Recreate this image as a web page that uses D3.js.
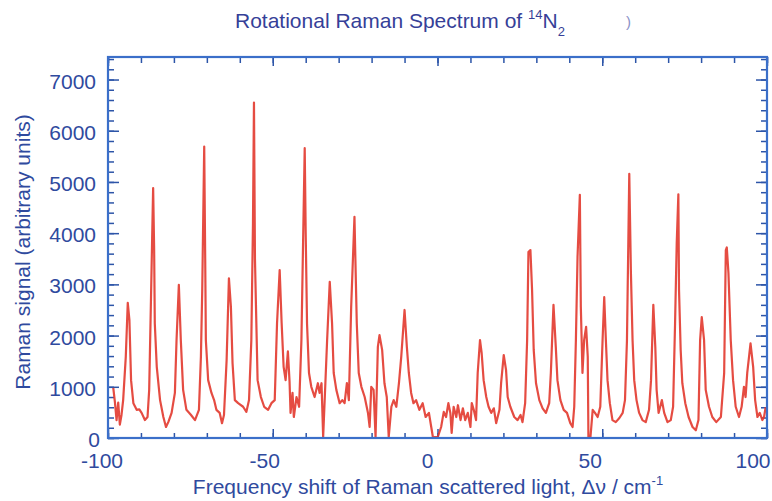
<!DOCTYPE html>
<html>
<head>
<meta charset="utf-8">
<script src="https://cdn.jsdelivr.net/npm/d3@7"></script>
<style>
body { margin: 0; background: #fff; }
text { font-family: "Liberation Sans", Arial, sans-serif; }
</style>
</head>
<body>
<div id="chart"></div>
<script>
// Raman shift (cm-1) and signal
const shift = [
  -98.4, -97.9, -97.4, -96.9, -96.4, -95.9, -95.4, -94.6, -94.0, -93.5, -93.0, -92.3, -91.3, -90.5, -89.8, -88.8, -88.0,
  -87.5, -87.1, -86.6, -86.3, -86.0, -85.8, -85.2, -84.2, -83.2, -82.4, -81.7, -80.7, -79.7,
  -79.2, -78.5, -77.9, -77.2, -76.2, -74.8, -73.6, -72.4,
  -71.8, -71.4, -70.8, -70.5, -70.3, -69.6, -68.6, -67.8, -67.1, -66.1, -65.4, -64.8,
  -64.0, -63.3, -62.7, -62.2, -61.5, -60.5, -59.0, -58.0, -57.2,
  -56.5, -56.0, -55.7, -55.4, -55.1, -54.6, -53.6, -52.6, -51.4, -50.4, -49.4,
  -48.7, -47.9, -47.3, -46.7, -46.1, -45.4, -44.9, -44.6, -44.0, -43.6, -42.8, -42.0,
  -41.3, -40.8, -40.3, -40.0, -39.6, -39.0, -38.3, -37.3, -36.3, -35.8, -35.2, -34.7, -34.2,
  -33.5, -32.7, -32.0, -31.5, -30.7, -29.7, -28.9, -28.2, -27.5, -26.9,
  -26.2, -25.2, -24.5, -23.9, -23.1, -22.1, -21.1, -20.6, -20.1, -19.4, -18.8,
  -18.1, -17.6, -16.8, -16.1, -15.4, -14.8, -14.0, -13.3, -12.5, -11.7, -11.0,
  -10.0, -9.3, -8.7, -8.0, -7.3, -6.5, -5.5, -4.5, -3.6, -2.6, -1.9, -1.4,
  0.1, 1.1, 1.9, 2.6, 3.3, 3.9, 4.3, 4.9, 5.7, 6.2, 7.0, 7.7, 8.4, 9.2, 10.0, 10.4, 11.0, 11.7,
  12.2, 12.9, 13.4, 14.0, 14.8, 15.5, 16.3, 17.1, 17.8, 18.8, 19.3,
  20.1, 20.8, 21.3, 22.1, 23.3, 24.3, 25.2, 25.8, 26.6,
  27.2, 27.6, 28.2, 28.7, 29.2, 29.9, 30.9, 31.9, 32.9, 33.9, 34.4,
  35.2, 35.9, 36.4, 37.3, 38.3, 39.3, 40.3, 41.0, 41.5,
  42.0, 42.5, 43.2, 43.5, 44.0, 44.5, 45.1, 45.6, 45.8, 46.4, 47.1, 47.8, 48.6, 49.4,
  50.1, 50.6, 51.1, 51.6, 52.3, 53.1, 54.1, 55.2, 56.2, 56.9,
  57.5, 58.2, 58.7, 59.2, 59.7, 60.4, 61.2, 62.2, 63.2, 64.2, 64.8,
  65.5, 66.1, 66.5, 67.1, 68.1, 68.8, 69.8, 70.8, 71.5,
  72.1, 72.6, 73.1, 73.3, 73.8, 74.3, 75.2, 76.2, 77.4, 78.4, 79.2,
  79.7, 80.2, 80.9, 81.4, 82.4, 83.4, 84.6, 86.0, 87.0,
  87.5, 87.8, 88.3, 89.0, 89.7, 90.5, 91.5, 92.3, 93.0, 93.5, 94.0,
  95.0, 95.8, 96.4, 97.1, 97.8, 98.6, 99.1, 99.6
];
const signal = [
  980, 700, 350, 690, 260, 450, 740, 1590, 2640, 2300, 1130, 680, 550, 560, 490, 350, 410,
  940, 2240, 3900, 4880, 3700, 2240, 1390, 740, 410, 215, 310, 490, 880,
  1910, 2990, 1910, 940, 550, 450, 350, 550,
  1590, 2890, 5690, 3500, 1910, 1130, 880, 740, 550, 490, 290, 450,
  1520, 3120, 2560, 1460, 740, 680, 610, 510, 740,
  1910, 4200, 6550, 3500, 2600, 1130, 800, 610, 550, 680, 740,
  2240, 3280, 2240, 1390, 1130, 1690, 1100, 490, 880, 410, 800, 610,
  1910, 3800, 5660, 4000, 2240, 1270, 1000, 800, 1070, 880, 1070, 20, 800,
  1910, 3050, 2240, 1270, 940, 680, 740, 680, 1070, 740,
  2560, 4320, 2240, 1270, 1000, 800, 490, 215, 1000, 940, 20,
  1780, 2010, 1720, 1070, 800, 20, 610, 740, 610, 1070, 1590,
  2500, 1780, 1270, 880, 680, 740, 550, 680, 410, 490, 215, 20,
  20, 215, 510, 410, 680, 490, 100, 610, 410, 640, 350, 580, 350, 490, 215, 680, 550, 350,
  1270, 1910, 1660, 1130, 800, 610, 490, 580, 290, 550, 1070,
  1620, 1330, 800, 610, 410, 350, 450, 310, 680,
  1910, 3630, 3670, 2890, 1720, 1070, 740, 580, 490, 680, 1270,
  2600, 1780, 1130, 740, 550, 490, 290, 215, 610,
  1910, 3540, 4750, 2560, 1270, 1910, 2170, 1590, 20, 0, 550, 490, 410, 610,
  1910, 2750, 1910, 1130, 680, 350, 310, 390, 490, 740,
  1910, 5160, 3220, 1910, 1130, 740, 490, 350, 310, 550, 1130,
  2600, 1780, 940, 490, 740, 490, 310, 350, 610,
  2240, 3800, 4760, 2890, 1720, 1070, 680, 410, 215, 150, 350,
  1910, 2360, 1910, 940, 610, 410, 310, 410, 1270,
  3670, 3720, 3220, 1910, 1130, 610, 410, 610, 1000, 800, 1270,
  1850, 1390, 740, 410, 490, 350, 410, 600
];
const xLabels = [-100, -50, 0, 50, 100];
const yLabels = [0, 1000, 2000, 3000, 4000, 5000, 6000, 7000];

const width = 772;
const height = 501;
const plot = {left: 108, right: 767, top: 57, bottom: 438};

const frameColor = "#3b6fc9";
const tickColor = "#2d55a8";
const textColor = "#2f4a9e";

var svg = d3.select("#chart")
    .append("svg")
    .attr("width", width)
    .attr("height", height);

var x = d3.scaleLinear().domain([-100, 100]).range([plot.left, plot.right]);
var y = d3.scaleLinear().domain([0, 7440]).range([plot.bottom, plot.top]);

// inward ticks on all four sides, minor ones first
function ticks(axis, pos, values, size) {
    svg.append("g")
        .attr("transform", pos)
        .call(axis.tickValues(values).tickSize(-size).tickFormat(""))
        .call(g => g.select(".domain").remove())
        .call(g => g.selectAll("line").attr("stroke", tickColor).attr("stroke-width", 1.5));
}
var xMinor = d3.range(-100, 101, 10);
var yMinor = d3.range(0, 7441, 200);
ticks(d3.axisBottom(x), `translate(0,${plot.bottom})`, xMinor, 5);
ticks(d3.axisTop(x), `translate(0,${plot.top})`, xMinor, 6);
ticks(d3.axisBottom(x), `translate(0,${plot.bottom})`, xLabels, 9);
ticks(d3.axisTop(x), `translate(0,${plot.top})`, xLabels, 9);
ticks(d3.axisLeft(y), `translate(${plot.left},0)`, yMinor, 6);
ticks(d3.axisRight(y), `translate(${plot.right},0)`, yMinor, 6);
ticks(d3.axisLeft(y), `translate(${plot.left},0)`, yLabels, 11);
ticks(d3.axisRight(y), `translate(${plot.right},0)`, yLabels, 11);

// the spectrum
svg.append("clipPath").attr("id", "clip")
    .append("rect")
    .attr("x", plot.left).attr("y", plot.top)
    .attr("width", plot.right - plot.left).attr("height", plot.bottom - plot.top);

var line = d3.line()
    .x(i => x(shift[i]))
    .y(i => y(signal[i]));

svg.append("path")
    .datum(d3.range(shift.length))
    .attr("clip-path", "url(#clip)")
    .attr("d", line)
    .attr("fill", "none")
    .attr("stroke", "#e2382e")
    .attr("stroke-width", 2.2)
    .attr("stroke-linejoin", "round")
    .attr("stroke-opacity", 0.9);

// frame
svg.append("rect")
    .attr("x", plot.left).attr("y", plot.top)
    .attr("width", plot.right - plot.left).attr("height", plot.bottom - plot.top)
    .attr("fill", "none")
    .attr("stroke", frameColor)
    .attr("stroke-width", 2.2);

// tick labels (the scan has them sitting a little left of their ticks)
svg.append("g")
    .selectAll("text")
    .data(xLabels)
    .join("text")
    .attr("x", d => x(d) - 6 - (d + 100) * 0.04)
    .attr("y", 468)
    .attr("text-anchor", "middle")
    .attr("font-size", 21)
    .attr("fill", textColor)
    .text(d => d);

svg.append("g")
    .selectAll("text")
    .data(yLabels)
    .join("text")
    .attr("x", d => d === 0 ? 100 : 96)
    .attr("y", d => y(d) + 9)
    .attr("text-anchor", "end")
    .attr("font-size", 21)
    .attr("fill", textColor)
    .text(d => d);

// axis titles
var xt = svg.append("text")
    .attr("x", 428)
    .attr("y", 494)
    .attr("text-anchor", "middle")
    .attr("font-size", 21)
    .attr("fill", textColor)
    .text("Frequency shift of Raman scattered light, \u0394\u03bd / cm");
xt.append("tspan")
    .attr("dy", -9)
    .attr("font-size", 13)
    .text("-1");

svg.append("text")
    .attr("transform", "translate(30,252) rotate(-90)")
    .attr("text-anchor", "middle")
    .attr("font-size", 21)
    .attr("fill", textColor)
    .text("Raman signal (arbitrary units)");

// title
var title = svg.append("text")
    .attr("x", 235)
    .attr("y", 28)
    .attr("font-size", 21)
    .attr("fill", "#363f98")
    .text("Rotational Raman Spectrum of ");
title.append("tspan").attr("dy", -9).attr("font-size", 13).text("14");
title.append("tspan").attr("dy", 9).text("N");
title.append("tspan").attr("dy", 8).attr("font-size", 13).text("2");

svg.append("text")
    .attr("x", 626)
    .attr("y", 27)
    .attr("font-size", 15)
    .attr("fill", "#8a92c8")
    .text(")");
</script>
</body>
</html>
